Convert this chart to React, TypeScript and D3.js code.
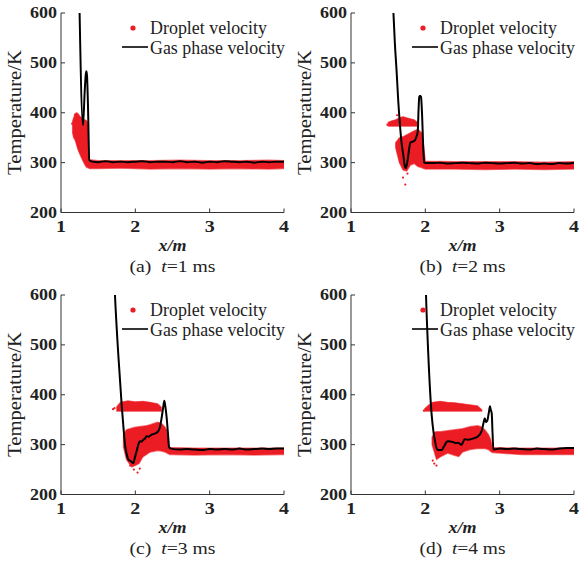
import React from "react";
import * as d3 from "d3";

// ---------- data ----------
const xTicks = [1, 2, 3, 4];
const yTicks = [200, 300, 400, 500, 600];
const panelLabels = ["(a)", "(b)", "(c)", "(d)"];
const panelTimes = ["1", "2", "3", "4"];
const legendLabels = ["Droplet velocity", "Gas phase velocity"];

// gas phase curves [x, T]
const gasA: [number, number][] = [
  [1.245, 640], [1.296, 375], [1.318, 440], [1.332, 475], [1.341, 483], [1.35, 474], [1.362, 420],
  [1.381, 305], [1.42, 302], [1.5, 301], [1.6, 303], [1.7, 301], [1.8, 302], [1.9, 301], [2.0, 302],
  [2.1, 303], [2.2, 301], [2.3, 302], [2.4, 302], [2.5, 301], [2.6, 303], [2.7, 301], [2.8, 302],
  [2.9, 300], [3.0, 302], [3.1, 301], [3.2, 303], [3.3, 302], [3.4, 301], [3.5, 302], [3.6, 300],
  [3.7, 302], [3.8, 301], [3.9, 302], [4.0, 302],
];
const gasB: [number, number][] = [
  [1.56, 640], [1.569, 606], [1.59, 540], [1.614, 482], [1.635, 425], [1.659, 375], [1.68, 340],
  [1.704, 315], [1.72, 296], [1.736, 289], [1.75, 295], [1.771, 315], [1.79, 335], [1.803, 341],
  [1.83, 342], [1.861, 345], [1.88, 352], [1.897, 361], [1.91, 410], [1.918, 432], [1.93, 434],
  [1.942, 432], [1.955, 400], [1.975, 320], [1.985, 300], [2.0, 299], [2.1, 299], [2.2, 300],
  [2.3, 298], [2.4, 299], [2.5, 300], [2.6, 299], [2.7, 298], [2.8, 300], [2.9, 299], [3.0, 298],
  [3.1, 299], [3.2, 300], [3.3, 298], [3.4, 299], [3.5, 297], [3.6, 298], [3.7, 297], [3.8, 299],
  [3.9, 298], [4.0, 300],
];
const gasC: [number, number][] = [
  [1.72, 620], [1.726, 600], [1.771, 480], [1.816, 380], [1.84, 335], [1.861, 300], [1.885, 280],
  [1.906, 270], [1.94, 267], [1.973, 263], [1.995, 275], [2.018, 287], [2.04, 300], [2.063, 307],
  [2.085, 306], [2.107, 310], [2.13, 312], [2.15, 317], [2.18, 316], [2.22, 320], [2.26, 322],
  [2.309, 327], [2.33, 335], [2.35, 350], [2.375, 375], [2.39, 388], [2.405, 375], [2.422, 353],
  [2.44, 320], [2.453, 295], [2.48, 292], [2.6, 290], [2.7, 291], [2.8, 290], [2.9, 289], [3.0, 291],
  [3.1, 290], [3.2, 291], [3.3, 290], [3.4, 292], [3.5, 290], [3.6, 291], [3.7, 292], [3.8, 291],
  [3.9, 292], [4.0, 292],
];
const gasD: [number, number][] = [
  [2.005, 620], [2.009, 600], [2.04, 480], [2.085, 360], [2.11, 325], [2.13, 307], [2.16, 290],
  [2.19, 289], [2.22, 289], [2.245, 295], [2.265, 300], [2.29, 306], [2.31, 307], [2.34, 306],
  [2.377, 305], [2.41, 303], [2.44, 304], [2.47, 301], [2.489, 300], [2.51, 306], [2.53, 311],
  [2.57, 310], [2.62, 311], [2.66, 313], [2.71, 317], [2.74, 322], [2.763, 330], [2.785, 345],
  [2.8, 353], [2.815, 345], [2.834, 348], [2.855, 365], [2.87, 377], [2.88, 370], [2.893, 363],
  [2.905, 320], [2.915, 290], [2.95, 291], [3.0, 292], [3.1, 291], [3.2, 292], [3.3, 291], [3.4, 290],
  [3.5, 292], [3.6, 291], [3.7, 290], [3.8, 292], [3.9, 293], [4.0, 293],
];

// droplet clouds [x, Tlow, Thigh]
const dropA: [number, number, number][] = [
  [1.155, 360, 383], [1.17, 350, 390], [1.19, 345, 398], [1.21, 335, 400], [1.23, 325, 398],
  [1.26, 315, 392], [1.29, 305, 388], [1.32, 296, 386], [1.345, 290, 384], [1.36, 290, 380],
  [1.37, 289, 340], [1.38, 288, 306], [1.5, 288, 304], [1.8, 289, 304], [2.2, 287, 304],
  [2.6, 288, 305], [3.0, 287, 304], [3.4, 288, 304], [3.8, 287, 305], [4.0, 288, 304],
];
const dropB1: [number, number, number][] = [
  [1.5, 373, 381], [1.55, 373, 384], [1.6, 373, 386], [1.65, 373, 390], [1.7, 373, 392],
  [1.75, 373, 390], [1.8, 373, 388], [1.85, 373, 386], [1.9, 373, 380], [1.91, 374, 377],
];
const dropB2: [number, number, number][] = [
  [1.6, 330, 340], [1.65, 300, 350], [1.7, 285, 352], [1.75, 283, 356], [1.8, 295, 360],
  [1.85, 298, 364], [1.9, 292, 367], [1.95, 290, 360], [1.98, 288, 330], [2.0, 287, 303],
  [2.4, 287, 302], [2.8, 286, 302], [3.2, 287, 302], [3.6, 286, 301], [4.0, 287, 302],
];
const dropC1: [number, number, number][] = [
  [1.75, 367, 376], [1.8, 367, 385], [1.9, 367, 388], [2.0, 367, 386], [2.1, 367, 387],
  [2.2, 367, 385], [2.3, 367, 382], [2.35, 367, 375],
];
const dropC2: [number, number, number][] = [
  [1.84, 295, 320], [1.88, 270, 330], [1.95, 255, 333], [2.0, 258, 335], [2.05, 262, 336],
  [2.1, 275, 337], [2.15, 280, 338], [2.2, 285, 340], [2.3, 288, 345], [2.35, 287, 343],
  [2.4, 285, 335], [2.44, 282, 325], [2.46, 280, 294], [2.8, 279, 293], [3.2, 280, 293],
  [3.6, 279, 293], [4.0, 280, 293],
];
const dropD1: [number, number, number][] = [
  [1.99, 367, 372], [2.05, 367, 380], [2.1, 367, 385], [2.2, 367, 387], [2.3, 367, 385],
  [2.4, 367, 384], [2.5, 367, 382], [2.6, 367, 380], [2.7, 367, 378], [2.76, 367, 370],
];
const dropD2: [number, number, number][] = [
  [2.09, 300, 315], [2.12, 285, 325], [2.15, 270, 326], [2.2, 275, 326], [2.3, 283, 328],
  [2.4, 278, 330], [2.45, 276, 331], [2.5, 285, 332], [2.6, 290, 336], [2.7, 292, 338],
  [2.75, 292, 336], [2.8, 292, 330], [2.85, 290, 320], [2.88, 286, 310], [2.9, 284, 294],
  [3.3, 280, 293], [3.7, 280, 293], [4.0, 280, 293],
];

// isolated droplets [x, T]
const strayA: [number, number][] = [[1.15, 378], [1.19, 396]];
const strayB: [number, number][] = [[1.73, 256], [1.70, 270], [1.76, 278], [1.62, 395], [1.49, 376]];
const strayC: [number, number][] = [[1.7, 371], [1.72, 373], [2.03, 244], [1.98, 250], [2.06, 252], [1.93, 258]];
const strayD: [number, number][] = [[2.12, 262], [2.15, 258], [1.98, 368], [2.1, 268]];

const gasData = [gasA, gasB, gasC, gasD];
const cloudData = [[dropA], [dropB1, dropB2], [dropC1, dropC2], [dropD1, dropD2]];
const strayData = [strayA, strayB, strayC, strayD];

// ---------- layout ----------
const RED = "#ec1c24";
const AX = "#333";
const SERIF = "'Liberation Serif', 'Times New Roman', serif";
const boxes = [
  { left: 61, top: 13 },
  { left: 351, top: 13 },
  { left: 61, top: 295 },
  { left: 351, top: 295 },
];
const PW = 223;
const PH = 199.5;

function Panel({ i }: { i: number }) {
  const { left, top } = boxes[i];
  const right = left + PW;
  const bottom = top + PH;
  const xs = d3.scaleLinear().domain([1, 4]).range([left, right]);
  const ys = d3.scaleLinear().domain([200, 600]).range([bottom, top]);
  const line = d3
    .line<[number, number]>()
    .x((d) => xs(d[0]))
    .y((d) => ys(d[1]))
    .curve(d3.curveMonotoneX);
  const area = d3
    .area<[number, number, number]>()
    .x((d) => xs(d[0]))
    .y0((d) => ys(d[1]))
    .y1((d) => ys(d[2]))
    .curve(d3.curveLinear);
  const clipId = `clip${i}`;
  const cx = left + PW / 2;
  return (
    <g>
      <defs>
        <clipPath id={clipId}>
          <rect x={left} y={top} width={PW} height={PH} />
        </clipPath>
      </defs>
      <g clipPath={`url(#${clipId})`}>
        {cloudData[i].map((c, k) => (
          <path key={k} d={area(c) || ""} fill={RED} stroke={RED} strokeWidth={1.2} strokeOpacity={0.6} />
        ))}
        {strayData[i].map((p, k) => (
          <circle key={k} cx={xs(p[0])} cy={ys(p[1])} r={1.1} fill={RED} />
        ))}
        <path d={line(gasData[i]) || ""} fill="none" stroke="#000" strokeWidth={2} strokeLinejoin="round" />
      </g>
      {/* axes */}
      <line x1={left} x2={left} y1={top} y2={bottom} stroke={AX} strokeWidth={1} />
      <line x1={left} x2={right} y1={bottom} y2={bottom} stroke={AX} strokeWidth={1} />
      {yTicks.map((t) => (
        <g key={t}>
          <line x1={left} x2={left + 4} y1={ys(t)} y2={ys(t)} stroke={AX} />
          <text
            x={left - 4}
            y={ys(t) + 5.4}
            textAnchor="end"
            fontFamily={SERIF}
            fontWeight="bold"
            fontSize={16}
            textLength={27}
            lengthAdjust="spacingAndGlyphs"
            fill="#222"
          >
            {t}
          </text>
        </g>
      ))}
      {xTicks.map((t) => (
        <g key={t}>
          <line x1={xs(t)} x2={xs(t)} y1={bottom} y2={bottom - 4} stroke={AX} />
          <text
            x={xs(t)}
            y={bottom + 19}
            textAnchor="middle"
            fontFamily={SERIF}
            fontWeight="bold"
            fontSize={16}
            textLength={10}
            lengthAdjust="spacingAndGlyphs"
            fill="#222"
          >
            {t}
          </text>
        </g>
      ))}
      {/* y label */}
      <text
        transform={`translate(${left - 40.5},${top + 99.5}) rotate(-90)`}
        textAnchor="middle"
        fontFamily={SERIF}
        fontSize={18}
        textLength={125}
        lengthAdjust="spacingAndGlyphs"
        fill="#222"
      >
        Temperature/K
      </text>
      {/* x label */}
      <text
        x={cx}
        y={bottom + 38}
        textAnchor="middle"
        fontFamily={SERIF}
        fontStyle="italic"
        fontWeight="bold"
        fontSize={17}
        textLength={28}
        lengthAdjust="spacingAndGlyphs"
        fill="#222"
      >
        x/m
      </text>
      {/* caption */}
      <text
        x={cx}
        y={bottom + 59}
        textAnchor="middle"
        fontFamily={SERIF}
        fontSize={17}
        textLength={86}
        lengthAdjust="spacingAndGlyphs"
        fill="#222"
        xmlSpace="preserve"
      >
        <tspan>{panelLabels[i] + "\u00a0\u00a0"}</tspan>
        <tspan fontStyle="italic">t</tspan>
        <tspan>{"=" + panelTimes[i] + " ms"}</tspan>
      </text>
      {/* legend */}
      <circle cx={left + 72} cy={top + 15} r={2.6} fill={RED} />
      <text
        x={left + 89}
        y={top + 20.5}
        fontFamily={SERIF}
        fontSize={19}
        textLength={117}
        lengthAdjust="spacingAndGlyphs"
        fill="#222"
      >
        {legendLabels[0]}
      </text>
      <line x1={left + 61} x2={left + 87} y1={top + 34} y2={top + 34} stroke="#000" strokeWidth={1.6} />
      <text
        x={left + 89}
        y={top + 40.5}
        fontFamily={SERIF}
        fontSize={19}
        textLength={135}
        lengthAdjust="spacingAndGlyphs"
        fill="#222"
      >
        {legendLabels[1]}
      </text>
    </g>
  );
}

export default function App() {
  return (
    <svg
      width={583}
      height={568}
      viewBox="0 0 583 568"
      style={{ position: "absolute", left: 0, top: 0, background: "#fff" }}
    >
      <rect x={0} y={0} width={583} height={568} fill="#fff" />
      {[0, 1, 2, 3].map((i) => (
        <Panel key={i} i={i} />
      ))}
    </svg>
  );
}
